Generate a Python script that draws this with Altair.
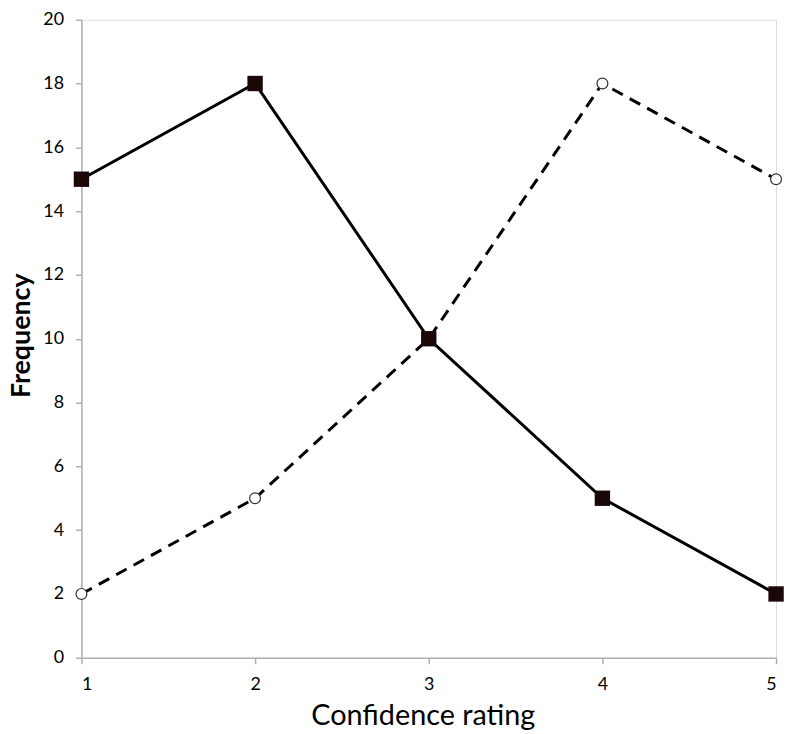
import altair as alt
import pandas as pd

ratings = [1, 2, 3, 4, 5]
solid_values = [15, 18, 10, 5, 2]
dashed_values = [2, 5, 10, 18, 15]

df = pd.DataFrame({
    "rating": ratings * 2,
    "value": solid_values + dashed_values,
    "series": ["A"] * 5 + ["B"] * 5,
})

FONT = "Lato"

x = alt.X("rating:Q",
          scale=alt.Scale(domain=[1, 5], nice=False, zero=False),
          axis=alt.Axis(values=ratings, format="d", title="Confidence rating",
                        grid=False, domainColor="#b0b0b0", tickColor="#b0b0b0",
                        domainWidth=1.5, tickWidth=1.5, tickSize=6,
                        labelFont=FONT, labelFontSize=18, labelColor="black",
                        labelPadding=12,
                        titleFont=FONT, titleFontSize=29, titleFontWeight="normal",
                        titleColor="black", titleBaseline="alphabetic", titleY=67,
                        titleX=344, titleAlign="center"))
y = alt.Y("value:Q",
          scale=alt.Scale(domain=[0, 20], nice=False),
          axis=alt.Axis(values=list(range(0, 21, 2)), title="Frequency",
                        grid=False, domainColor="#b0b0b0", tickColor="#b0b0b0",
                        domainWidth=1.5, tickWidth=1.5, tickSize=6,
                        labelFont=FONT, labelFontSize=18, labelColor="black",
                        labelPadding=12,
                        titleFont=FONT, titleFontSize=27, titleFontWeight="bold",
                        titleColor="black", titleBaseline="alphabetic",
                        titleX=-52, titleY=318, titleAngle=270))

base = alt.Chart(df)

solid_line = base.transform_filter(alt.datum.series == "A").mark_line(
    color="black", strokeWidth=3).encode(x=x, y=y)
dashed_line = base.transform_filter(alt.datum.series == "B").mark_line(
    color="black", strokeWidth=3, strokeDash=[12, 8]).encode(x=x, y=y)
circles = base.transform_filter(alt.datum.series == "B").mark_point(
    shape="circle", filled=True, fill="white", stroke="#333333", strokeWidth=1.2,
    size=120, opacity=1).encode(x=x, y=y)
squares = base.transform_filter(alt.datum.series == "A").mark_point(
    shape="square", filled=True, color="#1a0808", size=240, opacity=1).encode(x=x, y=y)

chart = alt.layer(dashed_line, solid_line, circles, squares).properties(
    width=700, height=643,
    autosize=alt.AutoSizeParams(type="none"),
    padding={"left": 74, "top": 9, "right": 8, "bottom": 70},
).configure_view(stroke=None).configure(background="white")

chart.save("out.html", embed_options={"renderer": "svg", "actions": False})
